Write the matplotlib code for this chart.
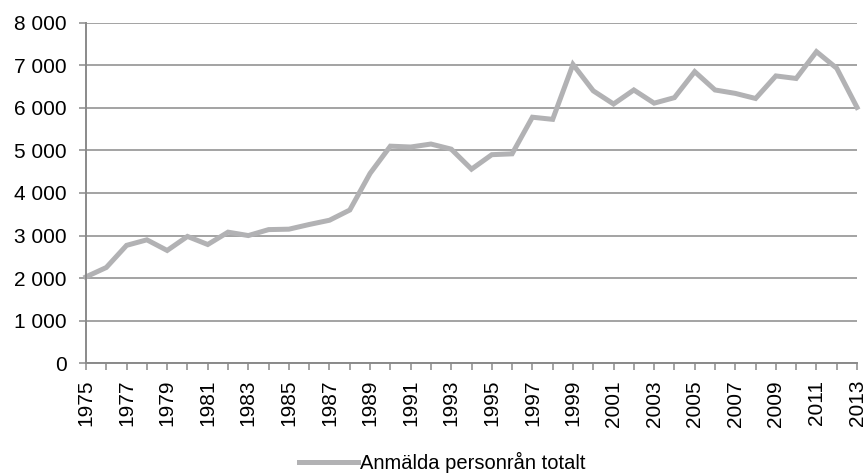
import matplotlib.pyplot as plt
from matplotlib.ticker import FuncFormatter

plt.rcParams['font.family'] = ['Liberation Sans', 'DejaVu Sans']
plt.rcParams['xtick.labelsize'] = 15
plt.rcParams['ytick.labelsize'] = 15

years = list(range(1975, 2014))
robberies = [2030, 2250, 2770, 2900, 2650, 2980, 2790, 3080, 3000, 3140,
             3150, 3260, 3360, 3600, 4460, 5100, 5080, 5150, 5030, 4560,
             4900, 4920, 5780, 5730, 7020, 6400, 6090, 6420, 6110, 6240,
             6850, 6420, 6340, 6220, 6750, 6690, 7320, 6930, 6010]
series_label = 'Anmälda personrån totalt'
y_ticks = [0, 1000, 2000, 3000, 4000, 5000, 6000, 7000, 8000]

axis_grey = '#8a8a8a'
line_grey = '#b2b2b4'

fig = plt.figure(figsize=(8.67, 4.75), dpi=100)
ax = fig.add_axes([0.0992, 0.2352, 0.8893, 0.717])

ax.plot(years, robberies, color=line_grey, linewidth=3.6,
        solid_joinstyle='miter', label=series_label, clip_on=False)

ax.set_xlim(1975, 2013)
ax.set_ylim(0, 8000)
ax.set_yticks(y_ticks)
ax.yaxis.set_major_formatter(FuncFormatter(lambda v, p: f"{int(v):,}".replace(",", " ")))
ax.set_xticks(years)
ax.set_xticklabels([str(y) if (y - 1975) % 2 == 0 else '' for y in years],
                   rotation=90, fontsize=15)
for lab in ax.get_yticklabels():
    lab.set_fontsize(15)

ax.grid(axis='y', color=axis_grey, linewidth=1.1)
ax.set_axisbelow(True)
for s in ['top', 'right']:
    ax.spines[s].set_visible(False)
for s in ['left', 'bottom']:
    ax.spines[s].set_color(axis_grey)
    ax.spines[s].set_linewidth(1.4)

ax.tick_params(axis='y', length=5, width=1.1, color=axis_grey, pad=9)
ax.tick_params(axis='x', length=5, width=1.1, color=axis_grey, pad=7)

leg = fig.legend(loc='center', bbox_to_anchor=(0.51, 0.027), frameon=False,
                 fontsize=14.5, handlelength=2.9, handletextpad=0.1)

fig.savefig('out.png', dpi=100)
